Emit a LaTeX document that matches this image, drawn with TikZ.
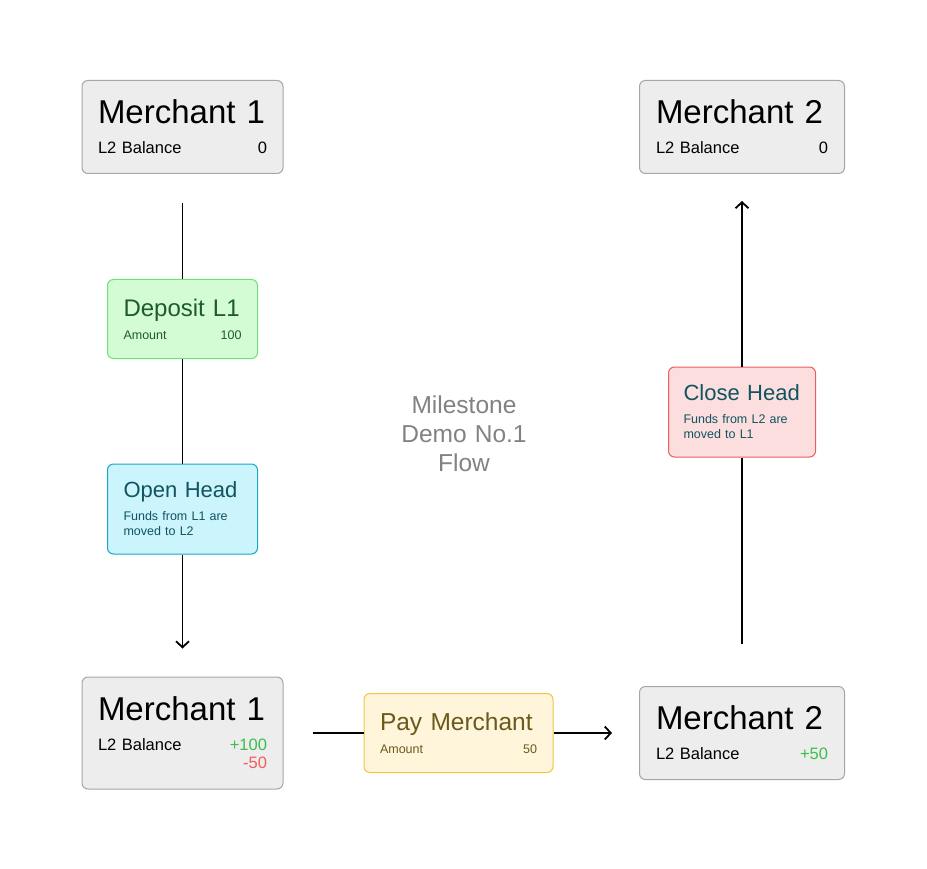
\documentclass[tikz,border=0pt]{standalone}
\usepackage{fontspec}
\setmainfont{Liberation Sans}
\usepackage{xcolor}
\usepackage{tikz}
\usetikzlibrary{arrows.meta,positioning}
\setlength{\parindent}{0pt}
\definecolor{cardgray}{HTML}{EDEDED}
\definecolor{cardedge}{HTML}{A6A6A6}
\definecolor{depositfill}{HTML}{D4FCD4}
\definecolor{depositedge}{HTML}{72E07A}
\definecolor{deposittext}{HTML}{1E5B2B}
\definecolor{openfill}{HTML}{CCF4FD}
\definecolor{openedge}{HTML}{17A8C8}
\definecolor{headtext}{HTML}{0F5460}
\definecolor{closefill}{HTML}{FDDEDE}
\definecolor{closeedge}{HTML}{EE5B5B}
\definecolor{payfill}{HTML}{FEF5DB}
\definecolor{payedge}{HTML}{F6C445}
\definecolor{paytext}{HTML}{6A5A1C}
\definecolor{plusgreen}{HTML}{3DBE4D}
\definecolor{minusred}{HTML}{F25C5C}
\definecolor{notegray}{HTML}{828282}
\newcommand{\pushright}{\hspace{0pt plus 1filll}}
\newcommand{\bigtitle}[1]{{\fontsize{33}{38}\selectfont\spaceskip=0.34em\relax\mbox{#1}\par}}
\newcommand{\steptitle}[1]{\fontsize{#1}{#1}\selectfont\spaceskip=0.34em\relax}
\newcommand{\notefont}{\fontsize{24.5}{29}\selectfont\spaceskip=0.33em\relax}

\begin{document}
\begin{tikzpicture}[x=1pt, y=-1pt,
  card/.style={rectangle, rounded corners=6pt, line width=1pt, inner xsep=16pt, inner ysep=2pt},
  merchant/.style={card, fill=cardgray, draw=cardedge, minimum height=93pt, font=\fontsize{16.5}{18}\selectfont},
  stepcard/.style={card, minimum height=79pt, font=\fontsize{12.5}{15}\selectfont},
  flow/.style={line width=1.8pt, black},
  tip/.style={-{Straight Barb[length=6pt,width=13pt,line width=1.8pt]}}]
\fill[white] (0,0) rectangle (927,869);
\useasboundingbox (0,0) rectangle (927,869);
% Merchant cards
\node[merchant, text width=169pt] (m1top) at (182.5,127)
  {\vspace*{4pt}\bigtitle{Merchant 1}\vspace{8pt}L2 Balance\pushright 0};
\node[merchant, text width=172pt, inner xsep=16.5pt] (m2top) at (742,127)
  {\vspace*{4pt}\bigtitle{Merchant 2}\vspace{8pt}L2 Balance\pushright 0};
\node[merchant, text width=169pt, minimum height=112pt] (m1bot) at (182.5,733)
  {\vspace*{3pt}\bigtitle{Merchant 1}\vspace{9pt}L2 Balance\pushright{\color{plusgreen}+100}\par
   \pushright{\color{minusred}-50}};
\node[merchant, text width=172pt, inner xsep=16.5pt] (m2bot) at (742,733)
  {\vspace*{4pt}\bigtitle{Merchant 2}\vspace{8pt}L2 Balance\pushright{\color{plusgreen}+50}};
% Steps
\node[stepcard, fill=depositfill, draw=depositedge, text=deposittext, text width=118pt] (deposit) at (182.5,319)
  {{\steptitle{24}\mbox{Deposit L1}\par}\vspace{8pt}Amount\pushright 100};
\node[stepcard, fill=openfill, draw=openedge, text=headtext, text width=118pt, minimum height=90pt] (openhead) at (182.5,509)
  {{\steptitle{22}\mbox{Open Head}\par}\vspace{8pt}Funds from L1 are\par moved to L2};
\node[stepcard, fill=closefill, draw=closeedge, text=headtext, text width=117pt, inner xsep=15pt, minimum height=90pt] (closehead) at (742,412)
  {{\steptitle{22}\mbox{Close Head}\par}\vspace{8pt}Funds from L2 are\par moved to L1};
\node[stepcard, fill=payfill, draw=payedge, text=paytext, text width=157pt] (pay) at (458.5,733)
  {{\steptitle{24.5}\mbox{Pay Merchant}\par}\vspace{8pt}Amount\pushright 50};
\node[text=notegray, align=center, font=\notefont] (note) at (464,434)
  {Milestone\\Demo No.1\\Flow};
% Connectors
\draw[flow, shorten <=29pt] (m1top) -- (deposit);
\draw[flow] (deposit) -- (openhead);
\draw[flow, tip, shorten >=28pt] (openhead) -- (m1bot);
\draw[flow, shorten <=29pt] (m1bot) -- (pay);
\draw[flow, tip, shorten >=27pt] (pay) -- (m2bot);
\draw[flow, shorten <=42pt] (m2bot) -- (closehead);
\draw[flow, tip, shorten >=27pt] (closehead) -- (m2top);
\end{tikzpicture}
\end{document}
